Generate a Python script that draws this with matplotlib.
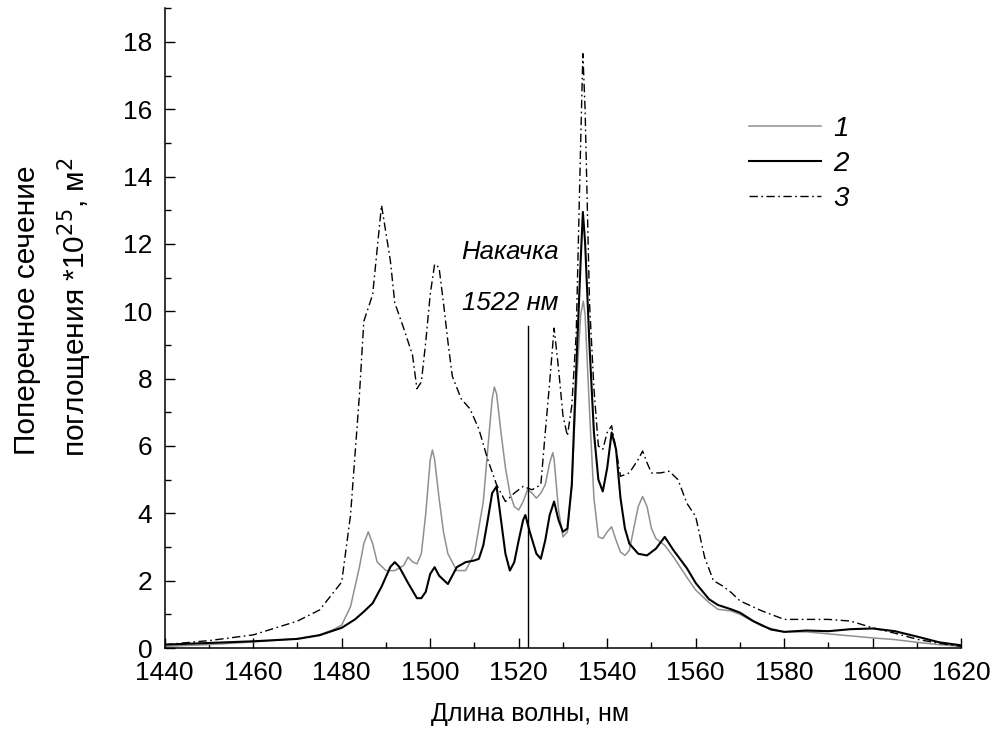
import matplotlib
matplotlib.use("Agg")
import matplotlib.pyplot as plt
from matplotlib.ticker import MultipleLocator

plt.rcParams['font.family'] = ['Liberation Sans', 'DejaVu Sans']

# Curve 1 (gray)
x1 = [1440, 1450, 1460, 1470, 1475, 1478, 1480, 1482, 1484, 1485, 1486, 1487, 1488, 1490, 1492, 1494, 1495, 1496, 1497, 1498, 1499, 1500, 1500.5, 1501, 1502, 1503, 1504, 1506, 1508, 1510, 1512, 1513, 1514, 1514.5, 1515, 1516, 1517, 1518, 1519, 1520, 1521, 1522, 1523, 1524, 1525, 1526, 1527, 1527.7, 1528, 1529, 1530, 1531, 1532, 1533, 1534, 1534.6, 1535, 1536, 1537, 1538, 1539, 1540, 1541, 1542, 1543, 1544, 1545, 1546, 1547, 1548, 1549, 1550, 1551, 1552, 1553, 1555, 1558, 1560, 1563, 1565, 1568, 1570, 1575, 1580, 1585, 1590, 1595, 1600, 1605, 1610, 1615, 1620]
y1 = [0.05, 0.1, 0.18, 0.28, 0.39, 0.54, 0.68, 1.23, 2.4, 3.1, 3.45, 3.1, 2.56, 2.3, 2.3, 2.45, 2.7, 2.56, 2.5, 2.8, 4.0, 5.58, 5.88, 5.6, 4.45, 3.45, 2.8, 2.3, 2.3, 2.8, 4.35, 5.9, 7.4, 7.75, 7.55, 6.4, 5.35, 4.6, 4.2, 4.1, 4.35, 4.7, 4.6, 4.45, 4.6, 4.85, 5.5, 5.8, 5.6, 4.1, 3.3, 3.45, 4.85, 7.7, 9.9, 10.3, 9.9, 7.05, 4.45, 3.3, 3.25, 3.45, 3.6, 3.2, 2.85, 2.75, 2.9, 3.55, 4.2, 4.5, 4.2, 3.55, 3.25, 3.15, 3.05, 2.7, 2.1, 1.72, 1.35, 1.15, 1.1, 1.0, 0.65, 0.48, 0.48, 0.42, 0.36, 0.3, 0.25, 0.17, 0.1, 0.05]

# Curve 2 (black solid)
x2 = [1440, 1450, 1460, 1470, 1475, 1480, 1483, 1485, 1487, 1489, 1491, 1492, 1493, 1495, 1497, 1498, 1499, 1500, 1501, 1502, 1504, 1506, 1508, 1510, 1511, 1512, 1513, 1514, 1515, 1516, 1517, 1518, 1519, 1520, 1521, 1521.5, 1522.5, 1524, 1525, 1526, 1527, 1528, 1529, 1530, 1531, 1532, 1533, 1534, 1534.5, 1535, 1536, 1537, 1538, 1539, 1540, 1541, 1542, 1543, 1544, 1545, 1547, 1549, 1551, 1553, 1555, 1558, 1560, 1563, 1565, 1568, 1570, 1573, 1577, 1580, 1585, 1590, 1595, 1600, 1605, 1610, 1615, 1620]
y2 = [0.1, 0.15, 0.2, 0.27, 0.38, 0.6, 0.85, 1.08, 1.33, 1.82, 2.41, 2.55, 2.41, 1.93, 1.48, 1.48, 1.67, 2.2, 2.4, 2.15, 1.9, 2.4, 2.55, 2.6, 2.65, 3.05, 3.8, 4.6, 4.8, 3.8, 2.8, 2.3, 2.55, 3.2, 3.8, 3.95, 3.45, 2.8, 2.65, 3.2, 3.95, 4.35, 3.8, 3.45, 3.55, 4.85, 8.3, 11.5, 12.95, 12.05, 8.97, 6.4, 5.0, 4.65, 5.35, 6.4, 5.9, 4.45, 3.55, 3.1, 2.8, 2.75, 2.95, 3.3, 2.9, 2.37, 1.93, 1.45, 1.28, 1.15, 1.05, 0.8, 0.55, 0.48, 0.52, 0.5, 0.56, 0.58, 0.5, 0.34, 0.17, 0.08]

# Curve 3 (dash-dot)
x3 = [1440, 1450, 1460, 1470, 1475, 1480, 1482, 1484, 1485, 1487, 1489, 1491, 1492, 1494, 1496, 1497, 1498, 1499, 1500, 1501, 1502, 1503, 1504, 1505, 1507, 1509, 1511, 1513, 1515, 1517, 1519, 1521, 1523, 1525, 1526, 1527, 1528, 1529, 1530, 1531, 1532, 1533, 1534, 1534.5, 1535, 1536, 1537, 1538, 1539, 1540, 1541, 1542, 1543, 1545, 1547, 1548, 1549, 1550, 1552, 1554, 1556, 1558, 1560, 1562, 1564, 1566, 1568, 1570, 1575, 1580, 1585, 1590, 1595, 1600, 1605, 1610, 1615, 1620]
y3 = [0.1, 0.22, 0.39, 0.8, 1.13, 1.96, 3.95, 7.5, 9.7, 10.5, 13.15, 11.5, 10.25, 9.5, 8.7, 7.7, 7.9, 9.1, 10.5, 11.4, 11.3, 10.25, 9.1, 8.07, 7.4, 7.1, 6.5, 5.6, 4.85, 4.35, 4.6, 4.8, 4.7, 4.85, 6.4, 7.9, 9.5, 8.3, 6.9, 6.3, 7.2, 9.35, 15.0, 17.65, 16.0, 10.25, 7.7, 6.0, 5.9, 6.4, 6.6, 5.9, 5.1, 5.2, 5.6, 5.85, 5.5, 5.2, 5.2, 5.25, 5.0, 4.3, 3.9, 2.7, 2.0, 1.85, 1.65, 1.4, 1.1, 0.85, 0.85, 0.85, 0.8, 0.6, 0.44, 0.26, 0.14, 0.05]

labels = ['1', '2', '3']
pump_x = 1522
pump_top = 9.55
pump_text = ['Накачка', '1522 нм']

fig = plt.figure(figsize=(9.92, 7.47), dpi=100)
ax = fig.add_axes([0.166, 0.1325, 0.803, 0.8565])

ax.plot(x1, y1, color='#909090', lw=1.1, label=labels[0])
ax.plot(x2, y2, color='black', lw=1.5, label=labels[1])
ax.plot(x3, y3, color='black', lw=1.0, linestyle=(0, (6, 2.5, 1.2, 2.5)), label=labels[2])

ax.plot([pump_x, pump_x], [0, pump_top], color='black', lw=1.0)
ax.text(1518, 11.75, pump_text[0], fontsize=18.5, style='italic', ha='center', va='center')
ax.text(1518, 10.25, pump_text[1], fontsize=18.5, style='italic', ha='center', va='center')

ax.set_xlim(1440, 1620)
ax.set_ylim(0, 19)
ax.xaxis.set_major_locator(MultipleLocator(20))
ax.xaxis.set_minor_locator(MultipleLocator(10))
ax.yaxis.set_major_locator(MultipleLocator(2))
ax.yaxis.set_minor_locator(MultipleLocator(1))
ax.tick_params(which='major', direction='in', length=7.5, width=1, labelsize=19, pad=9)
ax.tick_params(which='minor', direction='in', length=4, width=1)
for s in ['top', 'right']:
    ax.spines[s].set_visible(False)
for s in ['left', 'bottom']:
    ax.spines[s].set_linewidth(1.1)

leg = ax.legend(loc='upper left', bbox_to_anchor=(0.733, 0.832), frameon=False,
                handlelength=2.6, handletextpad=0.45, labelspacing=0.33,
                borderpad=0, borderaxespad=0,
                prop={'size': 20, 'style': 'italic'})

fig.text(27 / 992, (747 - 455) / 747, 'Поперечное сечение', rotation=90,
         ha='center', va='bottom', fontsize=21.5)
fig.text(75 / 992, (747 - 457) / 747, 'поглощения *10$^{25}$, м$^{2}$', rotation=90,
         ha='center', va='bottom', fontsize=21.5)
fig.text(530 / 992, 1 - 714 / 747, 'Длина волны, нм', ha='center', va='center', fontsize=18)

fig.savefig('out.png', dpi=100)
